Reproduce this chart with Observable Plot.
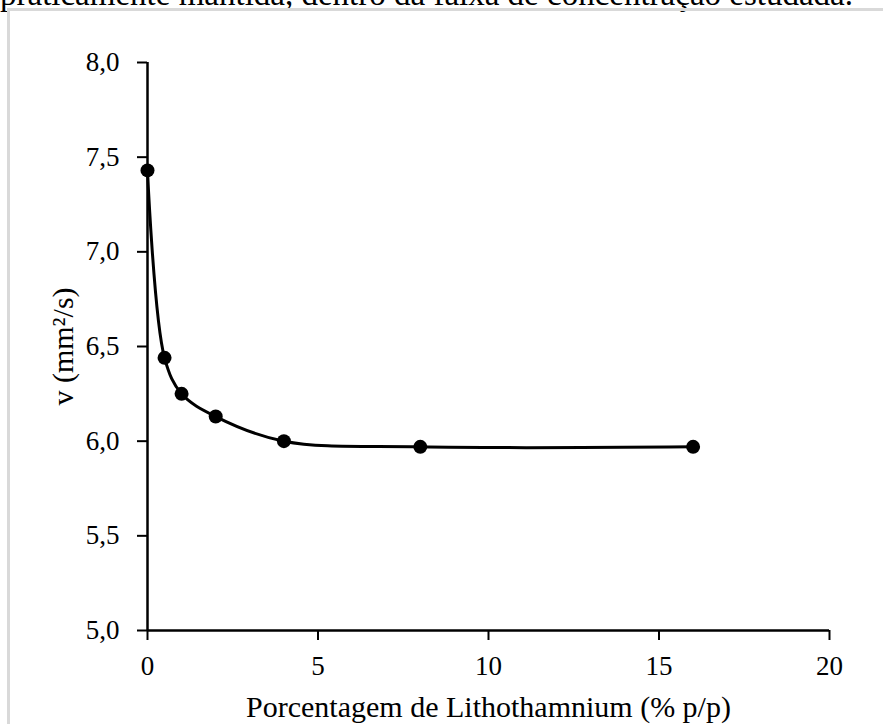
<!DOCTYPE html>
<html>
<head>
<meta charset="utf-8">
<script src="https://cdn.jsdelivr.net/npm/d3@7"></script>
<script src="https://cdn.jsdelivr.net/npm/@observablehq/plot@0.6"></script>
<style>
  html, body { margin: 0; padding: 0; background: #fff; overflow: hidden; }
  #wrap { position: relative; width: 883px; height: 724px; }
  #topText { position: absolute; left: 0; top: -22px; font-family: "Liberation Serif", "Times New Roman", serif; font-size: 33px; white-space: nowrap; color: #000; line-height: 33px; }
  #border { position: absolute; left: 7px; top: 8px; width: 900px; height: 800px; border-left: 3px solid #d9d9d9; border-top: 3px solid #d9d9d9; }
  #chart { position: absolute; left: 0; top: 0; }
</style>
</head>
<body>
<div id="wrap">
  <div id="topText">praticamente mantida, dentro da faixa de concentração estudada.</div>
  <div id="border"></div>
  <div id="chart"></div>
</div>
<script>
const concentration = [0, 0.5, 1, 2, 4, 8, 16];
const viscosity = [7.43, 6.44, 6.25, 6.13, 6.00, 5.97, 5.97];
const xTicks = [0, 5, 10, 15, 20];
const yTicks = [5.0, 5.5, 6.0, 6.5, 7.0, 7.5, 8.0];
const xTitle = "Porcentagem de Lithothamnium (% p/p)";
const yTitle = "v (mm²/s)";

const data = concentration.map((c, i) => ({x: c, y: viscosity[i]}));
const fmtY = d => d.toFixed(1).replace(".", ",");
const font = "'Liberation Serif', 'Times New Roman', serif";

const chart = Plot.plot({
  width: 883,
  height: 724,
  marginLeft: 147,
  marginRight: 54,
  marginTop: 62,
  marginBottom: 94,
  style: {fontFamily: font, background: "transparent", color: "#000"},
  x: {domain: [0, 20], ticks: xTicks, axis: null},
  y: {domain: [5, 8], ticks: yTicks, axis: null},
  marks: [
    Plot.axisX({ticks: xTicks, tickSize: 10, tickPadding: 15, fontSize: 27, strokeWidth: 2, label: null, tickFormat: d => String(d)}),
    Plot.axisY({ticks: yTicks, tickSize: 10, tickPadding: 18, fontSize: 27, strokeWidth: 2, label: null, tickFormat: fmtY}),
    Plot.ruleY([5], {stroke: "#000", strokeWidth: 2.5}),
    Plot.ruleX([0], {stroke: "#000", strokeWidth: 2.5}),
    Plot.line(data, {x: "x", y: "y", curve: "catmull-rom", stroke: "#000", strokeWidth: 3}),
    Plot.dot(data, {x: "x", y: "y", r: 7, fill: "#000", stroke: "none"}),
    Plot.text([xTitle], {frameAnchor: "bottom", lineAnchor: "bottom", textAnchor: "middle", dy: 86, fontSize: 30, fill: "#000"}),
    Plot.text([yTitle], {frameAnchor: "left", rotate: -90, textAnchor: "middle", lineAnchor: "middle", dx: -84, fontSize: 30, fill: "#000"})
  ]
});
document.getElementById("chart").appendChild(chart);
</script>
</body>
</html>
